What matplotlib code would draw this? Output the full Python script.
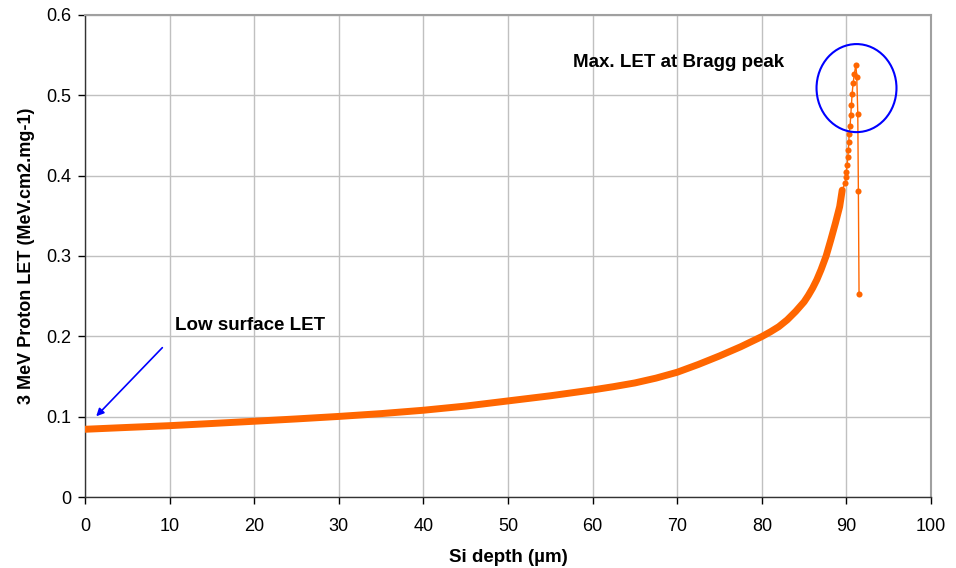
import numpy as np
import matplotlib
matplotlib.use("Agg")
import matplotlib.pyplot as plt
from matplotlib.patches import Ellipse
from matplotlib.ticker import FuncFormatter

plt.rcParams['font.family'] = ['Liberation Sans', 'DejaVu Sans']

# depth in silicon (um) and LET (MeV.cm2/mg)
depth = [0, 5, 10, 15, 20, 25, 30, 35, 40, 45, 50, 55, 60, 62.5, 65, 67.5,
         70, 72.5, 75, 77.5, 80, 81, 82, 83, 84, 85, 85.5, 86, 86.5, 87, 87.6,
         88.15, 88.7, 89.2, 89.5,
         89.85, 89.92, 89.99, 90.08, 90.16, 90.23, 90.28, 90.32, 90.43,
         90.51, 90.59, 90.67, 90.79, 90.94, 91.11, 91.22, 91.34, 91.41, 91.49]
let = [0.0843, 0.0866, 0.0888, 0.0915, 0.0943, 0.0972, 0.1003, 0.1038, 0.1080,
       0.1132, 0.1196, 0.1260, 0.1333, 0.1374, 0.1420, 0.1480,
       0.1553, 0.1650, 0.1756, 0.1870, 0.1997, 0.2055, 0.2120, 0.2205,
       0.2310, 0.2430, 0.2510, 0.2600, 0.2705, 0.2830, 0.3000,
       0.320, 0.341, 0.3615, 0.382,
       0.391, 0.398, 0.405, 0.413, 0.423, 0.432, 0.442, 0.452, 0.462,
       0.475, 0.488, 0.502, 0.515, 0.527, 0.538, 0.523, 0.477, 0.381, 0.253]

x_ticks = np.arange(0, 101, 10)
y_ticks = np.arange(0, 0.61, 0.1)

orange = '#FF6600'

fig = plt.figure(figsize=(9.56, 5.68), dpi=100)
ax = fig.add_axes([0.0889, 0.125, 0.8850, 0.8486])

depth_arr = np.array(depth)
let_arr = np.array(let)
dense = depth_arr <= 89.5

# the smooth part is so densely sampled it reads as a solid band
ax.plot(depth_arr[dense], let_arr[dense], color=orange, lw=5.0,
        solid_capstyle='round', solid_joinstyle='round', zorder=4)
ax.plot(depth_arr[~dense], let_arr[~dense], color=orange, lw=1.0,
        marker='o', ms=4.4, markeredgewidth=0, zorder=4)
ax.plot(depth_arr[dense][-1:].tolist() + depth_arr[~dense][:1].tolist(),
        let_arr[dense][-1:].tolist() + let_arr[~dense][:1].tolist(),
        color=orange, lw=1.0, zorder=3)

ax.set_xlim(0, 100)
ax.set_ylim(0, 0.6)
ax.set_xticks(x_ticks)
ax.set_yticks(y_ticks)
ax.yaxis.set_major_formatter(FuncFormatter(lambda v, p: '%g' % round(v, 2)))
ax.tick_params(axis='both', direction='out', length=5, width=1,
               labelsize=13, colors='black')
ax.tick_params(axis='y', pad=5)
ax.tick_params(axis='x', pad=10)

ax.grid(True, color='#c0c0c0', lw=1)
ax.set_axisbelow(True)
for s in ['top', 'right']:
    ax.spines[s].set_color('#a0a0a0')
    ax.spines[s].set_linewidth(1.5)
for s in ['left', 'bottom']:
    ax.spines[s].set_color('#333333')
    ax.spines[s].set_linewidth(1)

ax.set_xlabel('Si depth (µm)', fontsize=13.5, fontweight='bold', labelpad=10)
ax.set_ylabel('3 MeV Proton LET (MeV.cm2.mg-1)', fontsize=13, fontweight='bold',
              labelpad=8)

# circle around the Bragg peak
ax.add_patch(Ellipse((91.19, 0.509), 9.45, 0.1096, fill=False,
                     edgecolor='#0000ff', lw=1.5, zorder=5))
ax.text(57.66, 0.541, 'Max. LET at Bragg peak', fontsize=13.5,
        fontweight='bold', va='center', ha='left')

ax.annotate('', xy=(1.1, 0.098), xytext=(9.37, 0.1884),
            arrowprops=dict(arrowstyle='-|>', color='#0000ff', lw=1.2,
                            mutation_scale=11))
ax.text(10.63, 0.214, 'Low surface LET', fontsize=13.5, fontweight='bold',
        va='center', ha='left')

fig.savefig('out.png', dpi=100)
